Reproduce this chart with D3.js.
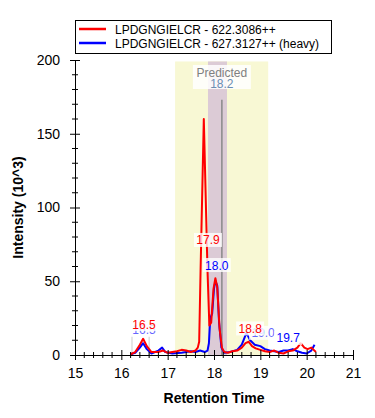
<!DOCTYPE html>
<html>
<head>
<meta charset="utf-8">
<script src="https://cdn.jsdelivr.net/npm/d3@7"></script>
<style>
  body { margin: 0; background: #fff; }
  svg { display: block; font-family: "Liberation Sans", Arial, sans-serif; }
</style>
</head>
<body>
<svg id="chart" width="375" height="418"></svg>
<script>
// series names
var seriesNames = ["LPDGNGIELCR - 622.3086++", "LPDGNGIELCR - 627.3127++ (heavy)"];
var seriesColors = ["#ff0000", "#0000ff"];

// light (red) trace: [retention time, intensity 10^3]
var lightTrace = [
  [16.2, 0.5], [16.3, 2], [16.4, 7], [16.47, 11], [16.55, 6], [16.65, 2],
  [16.8, 2], [16.9, 3], [17.0, 1.5], [17.1, 2], [17.2, 2.5], [17.3, 3.5],
  [17.4, 3], [17.5, 2], [17.6, 3], [17.65, 5], [17.68, 9], [17.71, 57],
  [17.78, 160], [17.86, 57], [17.9, 20], [17.94, 22], [17.99, 45],
  [18.03, 52], [18.07, 46], [18.12, 18], [18.17, 5], [18.22, 2],
  [18.3, 1.5], [18.4, 2.5], [18.5, 3], [18.6, 5], [18.68, 8], [18.75, 9],
  [18.82, 6], [18.9, 4.5], [19.0, 3.5], [19.1, 2.5], [19.2, 2], [19.3, 3],
  [19.4, 1.5], [19.5, 1], [19.6, 2.5], [19.7, 3], [19.8, 5], [19.87, 8],
  [19.95, 5], [20.02, 4], [20.1, 5], [20.2, 2]
];

// heavy (blue) trace
var heavyTrace = [
  [16.2, 0.5], [16.3, 1.5], [16.4, 5], [16.47, 8], [16.55, 4], [16.65, 1],
  [16.8, 3], [16.88, 5], [16.95, 2], [17.1, 1], [17.3, 1.5], [17.5, 2.5],
  [17.6, 2], [17.7, 3], [17.8, 2], [17.86, 3], [17.89, 8], [17.92, 25],
  [17.96, 28], [18.0, 45], [18.03, 50], [18.07, 47], [18.11, 22],
  [18.16, 5], [18.22, 1.5], [18.35, 2], [18.5, 3.5], [18.6, 7], [18.7, 15],
  [18.78, 10], [18.88, 7], [19.0, 6], [19.1, 4], [19.2, 3], [19.3, 2.5],
  [19.4, 2], [19.5, 3], [19.6, 3], [19.7, 4], [19.8, 2.5], [19.9, 1.5],
  [20.0, 1], [20.1, 3], [20.17, 7]
];

// peak labels: [retention time, intensity, text, series index, faded]
var peakLabels = [
  [16.49, 17, "16.5", 1, true],
  [19.06, 15, "19.0", 1, true],
  [18.06, 61, "18.0", 1, false],
  [19.6, 11.6, "19.7", 1, false],
  [16.49, 21, "16.5", 0, false],
  [17.87, 78, "17.9", 0, false],
  [18.78, 18, "18.8", 0, false]
];

var predictedTime = 18.17;
var predictedText = "18.2";
var windowRange = [17.16, 19.17];
var peakRange = [17.87, 18.28];
var boundaryTimes = [16.23, 16.6];

var xTicks = [15, 16, 17, 18, 19, 20, 21];
var yTicks = [0, 50, 100, 150, 200];

var svg = d3.select("#chart");
var x = d3.scaleLinear().domain([15, 21]).range([75, 353]);
var y = d3.scaleLinear().domain([0, 200]).range([355, 60]);

// retention windows
svg.append("rect")
  .attr("x", x(windowRange[0])).attr("y", y(199))
  .attr("width", x(windowRange[1]) - x(windowRange[0]))
  .attr("height", y(0) - y(199))
  .attr("fill", "#f8f8d4");
svg.append("rect")
  .attr("x", x(peakRange[0])).attr("y", y(199))
  .attr("width", x(peakRange[1]) - x(peakRange[0]))
  .attr("height", y(0) - y(199))
  .attr("fill", "#dccbd6");

// predicted line
svg.append("line")
  .attr("x1", x(predictedTime)).attr("x2", x(predictedTime))
  .attr("y1", y(173)).attr("y2", y(0))
  .attr("stroke", "#888").attr("stroke-width", 1.5);

// peak boundaries
boundaryTimes.forEach(function(t) {
  svg.append("line")
    .attr("x1", x(t)).attr("x2", x(t))
    .attr("y1", y(13)).attr("y2", y(0))
    .attr("stroke", "#ccc").attr("stroke-width", 1);
});

// traces
var line = d3.line()
  .x(function(d) { return x(d[0]); })
  .y(function(d) { return y(d[1]); });

svg.append("path").datum(heavyTrace)
  .attr("d", line).attr("fill", "none")
  .attr("stroke", seriesColors[1]).attr("stroke-width", 2)
  .attr("stroke-linejoin", "round");
svg.append("path").datum(lightTrace)
  .attr("d", line).attr("fill", "none")
  .attr("stroke", seriesColors[0]).attr("stroke-width", 2)
  .attr("stroke-linejoin", "round");

// axes
var xAxis = svg.append("g")
  .attr("transform", "translate(0," + y(0) + ")")
  .call(d3.axisBottom(x).tickValues(xTicks).tickFormat(d3.format("d"))
    .tickSize(5).tickPadding(8));
var yAxis = svg.append("g")
  .attr("transform", "translate(" + x(15) + ",0)")
  .call(d3.axisLeft(y).tickValues(yTicks).tickSize(5).tickPadding(10));

[xAxis, yAxis].forEach(function(g) {
  g.select(".domain").attr("stroke", "#000");
  g.selectAll("text").attr("font-size", 14).attr("fill", "#000")
    .attr("font-family", "Liberation Sans, Arial, sans-serif");
});
xAxis.selectAll(".tick line").attr("y1", -5).attr("y2", 5);
yAxis.selectAll(".tick line").attr("x1", -5).attr("x2", 5);

// minor ticks
d3.range(15, 21, 0.2).forEach(function(v) {
  if (Math.abs(v - Math.round(v)) < 0.01) return;
  svg.append("line")
    .attr("x1", x(v)).attr("x2", x(v))
    .attr("y1", y(0) - 3).attr("y2", y(0) + 3)
    .attr("stroke", "#000");
});
d3.range(0, 200, 10).forEach(function(v) {
  if (v % 50 === 0) return;
  svg.append("line")
    .attr("x1", x(15) - 3).attr("x2", x(15) + 3)
    .attr("y1", y(v)).attr("y2", y(v))
    .attr("stroke", "#000");
});

// axis titles
svg.append("text")
  .attr("x", (x(15) + x(21)) / 2).attr("y", 403)
  .attr("text-anchor", "middle").attr("font-size", 14).attr("font-weight", "bold")
  .text("Retention Time");
svg.append("text")
  .attr("transform", "translate(23," + ((y(0) + y(200)) / 2) + ") rotate(-90)")
  .attr("text-anchor", "middle").attr("font-size", 14).attr("font-weight", "bold")
  .text("Intensity (10^3)");

// predicted label
var pg = svg.append("g");
pg.append("rect")
  .attr("x", x(predictedTime) - 29).attr("y", 65)
  .attr("width", 58).attr("height", 24)
  .attr("fill", "#fff").attr("opacity", 0.85);
pg.append("text")
  .attr("x", x(predictedTime)).attr("y", 77)
  .attr("text-anchor", "middle").attr("font-size", 12).attr("fill", "#808080")
  .text("Predicted");
pg.append("text")
  .attr("x", x(predictedTime)).attr("y", 88)
  .attr("text-anchor", "middle").attr("font-size", 12).attr("fill", "#6b8db3")
  .text(predictedText);

// peak labels
peakLabels.forEach(function(d) {
  var cx = x(d[0]), cy = y(d[1]);
  var g = svg.append("g");
  g.append("rect")
    .attr("x", cx - 14).attr("y", cy - 7)
    .attr("width", 28).attr("height", 14)
    .attr("fill", "#fff").attr("opacity", 0.8);
  g.append("text")
    .attr("x", cx).attr("y", cy + 4.5)
    .attr("text-anchor", "middle").attr("font-size", 12)
    .attr("fill", seriesColors[d[3]])
    .attr("opacity", d[4] ? 0.6 : 1)
    .text(d[2]);
});

// legend
var lg = svg.append("g");
lg.append("rect")
  .attr("x", 75.5).attr("y", 20.5).attr("width", 256).attr("height", 33)
  .attr("fill", "#fff").attr("stroke", "#000");
seriesNames.forEach(function(name, i) {
  var ly = 29 + i * 14;
  lg.append("line")
    .attr("x1", 79).attr("x2", 106).attr("y1", ly).attr("y2", ly)
    .attr("stroke", seriesColors[i]).attr("stroke-width", 2.5);
  lg.append("text")
    .attr("x", 115).attr("y", ly + 4.5)
    .attr("font-size", 12).attr("fill", "#000")
    .text(name);
});
</script>
</body>
</html>
